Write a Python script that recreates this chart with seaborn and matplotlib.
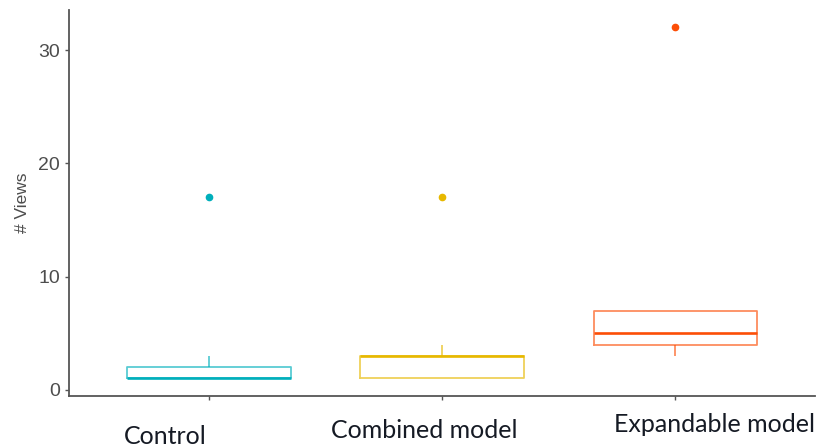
import matplotlib
matplotlib.use("Agg")
import matplotlib.pyplot as plt
import matplotlib.transforms as mtransforms
import numpy as np
import pandas as pd
import seaborn as sns

# Number of views per participant in each condition
groups = ["Control", "Combined model", "Expandable model"]
control_views = [1, 1, 1, 1, 1, 2, 2, 3, 17]
combined_views = [1, 1, 1, 3, 3, 3, 3, 4, 17]
expandable_views = [3, 4, 4, 5, 5, 7, 7, 7, 32]
colors = ["#00AFBB", "#E7B800", "#FC4E07"]
y_ticks = [0, 10, 20, 30]

df = pd.DataFrame({
    "group": [groups[0]] * len(control_views)
    + [groups[1]] * len(combined_views)
    + [groups[2]] * len(expandable_views),
    "views": control_views + combined_views + expandable_views,
})

sns.set_theme(style="white")
fig = plt.figure(figsize=(8.21, 4.48), dpi=100)
ax = fig.add_axes([0.084, 0.116, 0.909, 0.862])

sns.boxplot(
    data=df, x="group", y="views", hue="group", order=groups,
    hue_order=groups, palette=colors, fill=False, width=0.7,
    linewidth=1.3, showcaps=False, legend=False, ax=ax,
    boxprops={"alpha": 0.65},
    whiskerprops={"alpha": 0.65},
    medianprops={"linewidth": 1.9},
    flierprops={"marker": "o", "markersize": 4.5},
)

# Solid outlier dots in each group's colour
for line in ax.lines:
    if line.get_marker() == "o":
        c = line.get_markeredgecolor()
        line.set_markerfacecolor(c)
        line.set_markeredgecolor(c)

ax.set_ylim(-0.55, 33.55)
ax.set_xlim(-0.6, 2.6)
ax.set_yticks(y_ticks)
ax.set_yticklabels([str(t) for t in y_ticks], color="#4D4D4D",
                   fontsize=14, family=["Liberation Sans Narrow", "Liberation Sans"])
ax.set_ylabel("# Views", fontsize=12.5, color="#4D4D4D",
              family="Liberation Sans", labelpad=6)
ax.set_xlabel("")
ax.set_xticks(range(len(groups)))
ax.set_xticklabels([])

for side in ["top", "right"]:
    ax.spines[side].set_visible(False)
for side in ["left", "bottom"]:
    ax.spines[side].set_color("#555555")
    ax.spines[side].set_linewidth(1.3)
ax.tick_params(axis="both", which="both", direction="out", length=3,
               width=1.0, color="#555555", left=True, bottom=True)

# Category names set below the axis
label_pos = [(-0.185, -0.105), (0.925, -0.09), (2.17, -0.075)]
trans = mtransforms.blended_transform_factory(ax.transData, ax.transAxes)
for name, (xp, yp) in zip(groups, label_pos):
    ax.text(xp, yp, name, transform=trans, ha="center", va="center",
            fontsize=18, family="Lato", color="#151a24")

fig.savefig("out.png", dpi=100)
